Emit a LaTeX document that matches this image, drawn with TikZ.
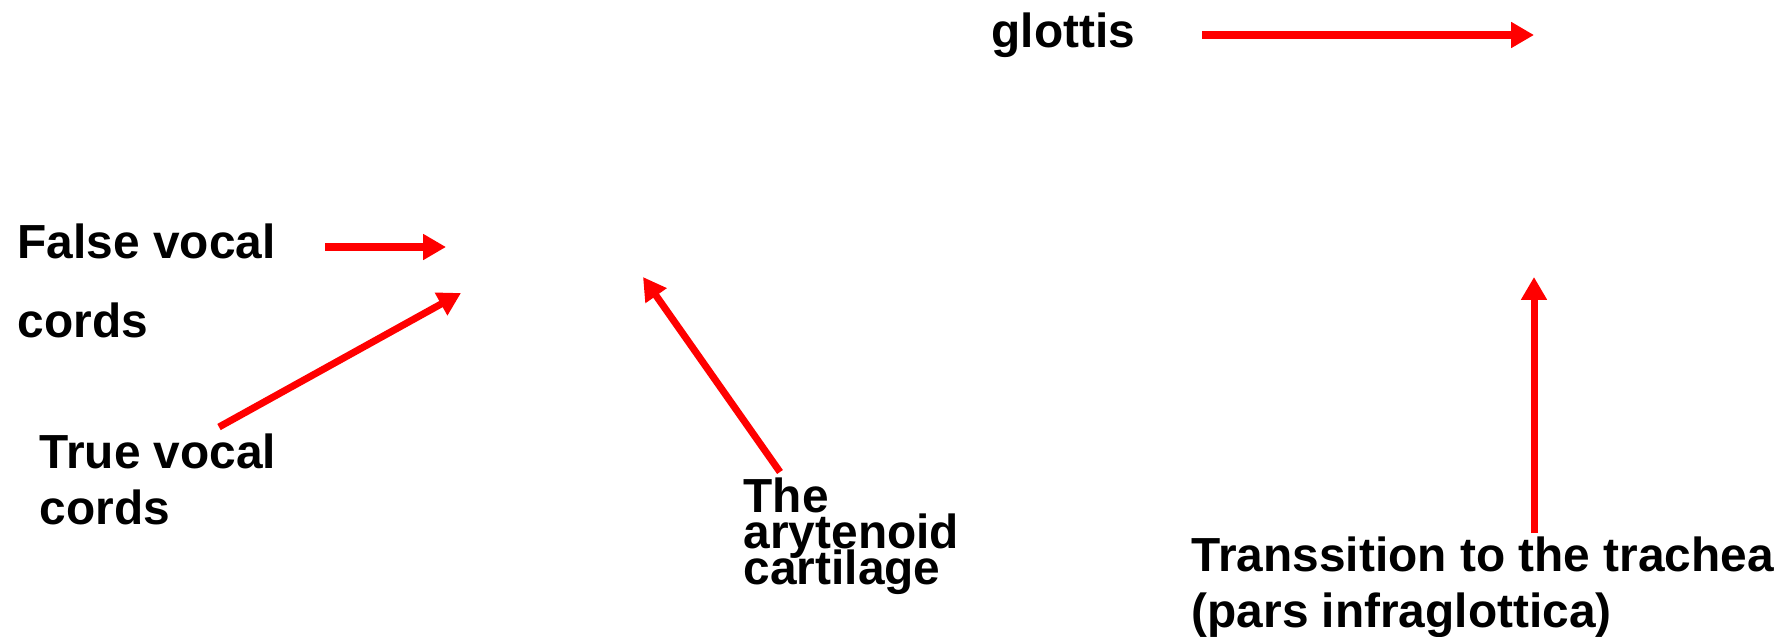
\documentclass[tikz,border=0pt]{standalone}
\usepackage{fontspec}
\setmainfont{Liberation Sans}
\usetikzlibrary{arrows.meta}
\definecolor{rot}{HTML}{FF0000}
\newcommand{\dicht}{\lineskiplimit=-20pt\relax}
\tikzset{
  pfeil/.style={-{Triangle[length=6.5pt,width=7pt]},rot,line width=2pt},
  lab/.style={anchor=north west,inner sep=0pt,align=left,
    font={\fontsize{13.6}{#1}\selectfont\bfseries\dicht}},
}

\begin{document}
\begin{tikzpicture}[x=0.01cm,y=-0.01cm]
  \useasboundingbox (0,0) rectangle (1791,636);
  \node[lab=16] (glottis) at (991,12) {glottis};
  \node[lab=22.5] (falsecords) at (17,223) {False vocal\\cords};
  \node[lab=15.9] (truecords) at (39,433) {True vocal\\cords};
  \node[lab=10.2] (arytenoid) at (743,477) {The\\arytenoid\\cartilage};
  \node[lab=15.9] (trachea) at (1191,536) {Transsition to the trachea\\(pars infraglottica)};
  \coordinate (glottis-von) at (1202,35);
  \coordinate (glottis-zu) at (1534,35);
  \coordinate (falsecords-von) at (325,247);
  \coordinate (falsecords-zu) at (446,247);
  \coordinate (truecords-von) at (219,427);
  \coordinate (truecords-zu) at (461,293);
  \coordinate (arytenoid-von) at (780,472);
  \coordinate (arytenoid-zu) at (643,277);
  \coordinate (trachea-von) at (1534,533);
  \coordinate (trachea-zu) at (1534,277);
  \draw[pfeil] (glottis-von)--(glottis-zu);
  \draw[pfeil] (falsecords-von)--(falsecords-zu);
  \draw[pfeil] (truecords-von)--(truecords-zu);
  \draw[pfeil] (arytenoid-von)--(arytenoid-zu);
  \draw[pfeil] (trachea-von)--(trachea-zu);
\end{tikzpicture}
\end{document}
